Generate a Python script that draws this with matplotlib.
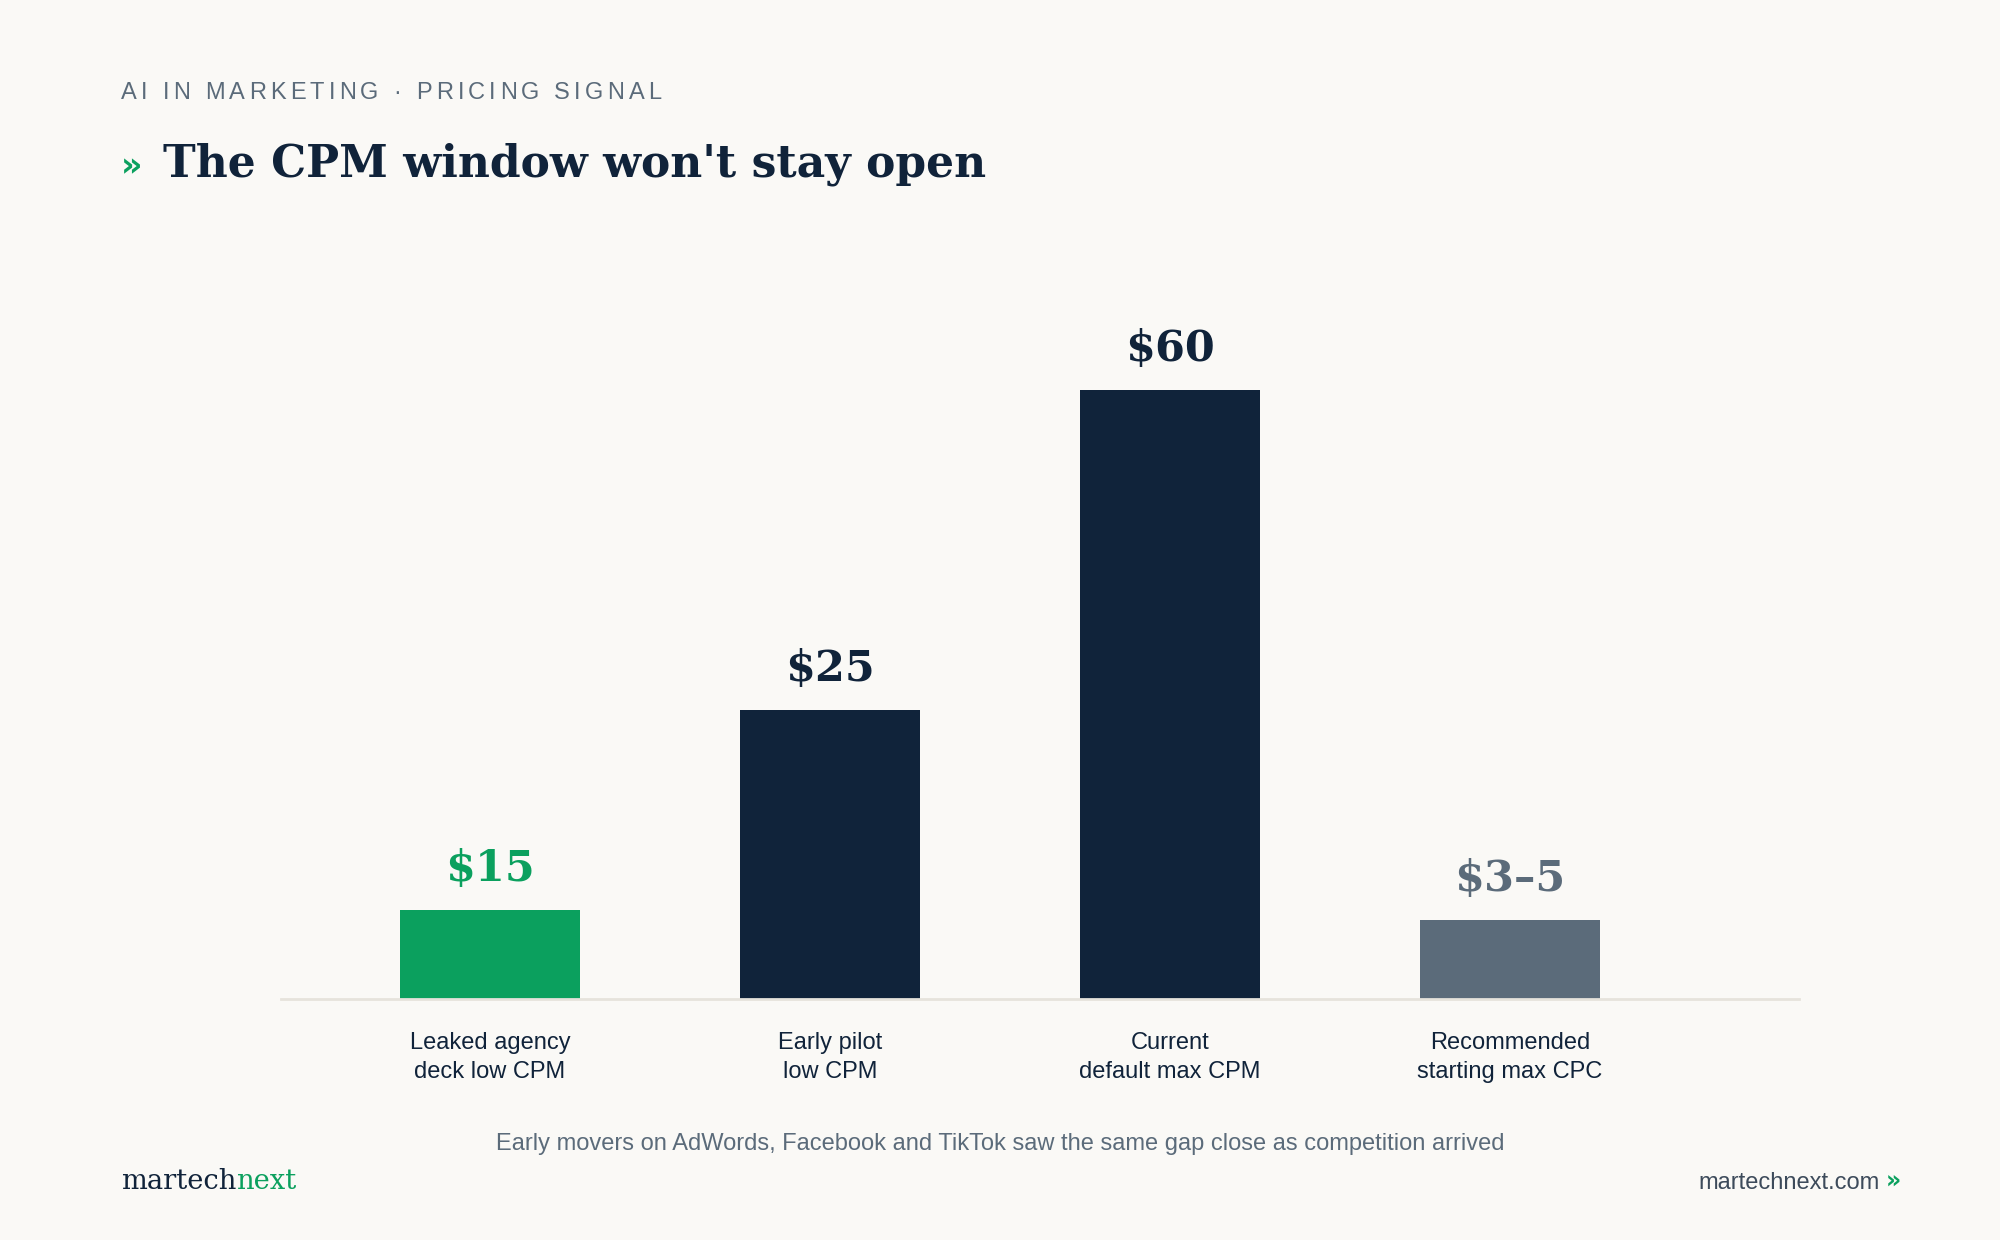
import matplotlib.pyplot as plt

# data
categories = ["Leaked agency\ndeck low CPM", "Early pilot\nlow CPM",
              "Current\ndefault max CPM", "Recommended\nstarting max CPC"]
bar_height = [8.8, 28.5, 60, 7.8]          # drawn bar heights ($60 bar = 60)
value_labels = ["$15", "$25", "$60", "$3\u20135"]
bar_colors = ["#0ba05e", "#10233a", "#10233a", "#5b6b7a"]

kicker = "AI IN MARKETING \u00b7 PRICING SIGNAL"
title = "The CPM window won't stay open"
note = "Early movers on AdWords, Facebook and TikTok saw the same gap close as competition arrived"

BG = "#faf9f6"
NAVY = "#10233a"
GREEN = "#0ba05e"
GRAY = "#5b6b7a"

W, H = 2000, 1240
fig = plt.figure(figsize=(10, 6.2), dpi=200, facecolor=BG)
renderer = fig.canvas.get_renderer()


def px(x, y):
    # pixel coords from top-left -> figure fraction
    return x / W, 1 - y / H


def width_of(s, **kw):
    t = fig.text(0, 0, s + "I", **kw)
    w1 = t.get_window_extent(renderer).width
    t.remove()
    t = fig.text(0, 0, "I", **kw)
    w2 = t.get_window_extent(renderer).width
    t.remove()
    return w1 - w2


def tracked(x, y, s, spacing, **kw):
    # letter-spaced text, drawn one glyph at a time in pixel coords
    for i, ch in enumerate(s):
        off = width_of(s[:i], **kw) + i * spacing
        fig.text(*px(x + off, y), ch, ha="left", va="baseline", **kw)


# axes: baseline at y=999px, bars centred at 490..1510px
ax_left, ax_right, ax_bottom, ax_top = 281, 1799, 999, 200
ax = fig.add_axes([ax_left / W, 1 - ax_bottom / H,
                   (ax_right - ax_left) / W, (ax_bottom - ax_top) / H])
ax.set_facecolor(BG)
x = list(range(len(categories)))
ax.bar(x, bar_height, width=0.53, color=bar_colors, zorder=2)
ax.set_xlim(-(490 - ax_left) / 340, 3 + (ax_right - 1510) / 340)
ax.set_ylim(0, 60 * (ax_bottom - ax_top) / 609)

for i, (h, lab, c) in enumerate(zip(bar_height, value_labels, bar_colors)):
    ax.annotate(lab, (i, h), xytext=(0, 10.5), textcoords="offset points",
                ha="center", va="baseline", fontsize=15.5, fontweight="bold",
                family="DejaVu Serif", color=c)

for s in ["top", "left", "right"]:
    ax.spines[s].set_visible(False)
ax.spines["bottom"].set_color("#e6e3dc")
ax.spines["bottom"].set_linewidth(1.0)
ax.set_yticks([])
ax.set_xticks(x)
ax.set_xticklabels(categories, fontsize=8.5, family="Liberation Sans",
                   color=NAVY, linespacing=1.4)
ax.tick_params(axis="x", length=0, pad=12)

# header
tracked(121, 99, kicker, 4.2, fontsize=8.5, family="Liberation Sans", color=GRAY)
fig.text(*px(121, 176), "\u00bb", ha="left", va="baseline", fontsize=12,
         fontweight="bold", family="DejaVu Sans", color=GREEN)
fig.text(*px(163, 176), title, ha="left", va="baseline", fontsize=15.85,
         fontweight="bold", family="DejaVu Serif", color=NAVY)

# footnote
fig.text(*px(1000, 1150), note, ha="center", va="baseline", fontsize=8.5,
         family="Liberation Sans", color=GRAY)

# footer
brand_kw = dict(fontsize=9.85, family="DejaVu Serif")
fig.text(*px(121, 1189), "martech", ha="left", va="baseline", color=NAVY, **brand_kw)
wm = width_of("martech", **brand_kw)
fig.text(*px(121 + wm, 1189), "next", ha="left", va="baseline", color=GREEN, **brand_kw)

fig.text(*px(1880, 1189), "martechnext.com", ha="right", va="baseline",
         fontsize=8.5, family="Liberation Sans", color="#3d4b5b")
fig.text(*px(1901, 1189), "\u00bb", ha="right", va="baseline", fontsize=8.5,
         fontweight="bold", family="DejaVu Sans", color=GREEN)

fig.savefig("out.png", dpi=200, facecolor=BG)
